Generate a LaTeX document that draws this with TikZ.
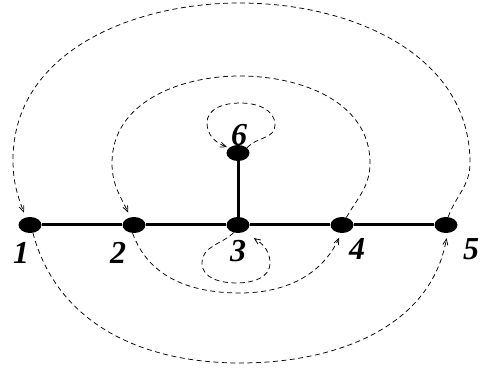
\documentclass[tikz,border=0pt]{standalone}
\usepackage{fontspec}
\setmainfont{Liberation Serif}
\usetikzlibrary{shapes.geometric,arrows.meta}
\begin{document}
\begin{tikzpicture}[x=1pt,y=1pt,
  vtx/.style={ellipse,fill=black,minimum width=23pt,minimum height=16pt,inner sep=0pt},
  edge/.style={line width=3pt},
  lbl/.style={font=\fontsize{32}{32}\selectfont\bfseries\itshape,inner sep=0pt},
  jump/.style={line width=0.75pt,dash pattern=on 5pt off 3.5pt,-{Straight Barb[length=6pt,width=5pt]}}]
\useasboundingbox (0,0) rectangle (480,372);
\node[vtx] (n1) at (30,147) {};
\node[vtx] (n2) at (134,147) {};
\node[vtx] (n3) at (238,147) {};
\node[vtx] (n4) at (342,147) {};
\node[vtx] (n5) at (446,147) {};
\node[vtx] (n6) at (238,219) {};
\node[lbl] (l1) at (21,119) {1};
\node[lbl] (l2) at (118,119) {2};
\node[lbl] (l3) at (238,121) {3};
\node[lbl] (l4) at (357,123) {4};
\node[lbl] (l5) at (471,123) {5};
\node[lbl] (l6) at (239,237) {6};
\draw[edge] (n1) -- (n2) -- (n3) -- (n4) -- (n5);
\draw[edge] (n3) -- (n6);
% outer loops
\draw[jump,shorten >=5pt] (n5.75) to[out=70,in=-90] (470,209) to[out=90,in=0] (240,369)
  to[out=180,in=90] (13,212) to[out=-90,in=110] (n1.120);
\draw[jump,shorten >=5pt] (n1.-70) to[out=-75,in=180] (240,9) to[out=0,in=-100] (n5.-80);
% inner loops
\draw[jump,shorten >=5pt] (n4.60) to[out=60,in=-90] (370,209) to[out=90,in=0] (240,296)
  to[out=180,in=90] (112,209) to[out=-90,in=115] (n2.115);
\draw[jump,shorten >=5pt] (n2.-100) to[out=-70,in=180] (240,79) to[out=0,in=-115] (n4.-95);
% self loops
\draw[jump,shorten >=2pt] (n6.30) to[out=50,in=-90] (275,247) to[out=90,in=0] (240,269)
  to[out=180,in=90] (207,249) to[out=-90,in=160] (n6.150);
\draw[jump,shorten >=11pt] (n3.-120) to[out=-135,in=90] (202,109) to[out=-90,in=180] (237,89)
  to[out=0,in=-90] (270,109) to[out=90,in=-35] (n3.-45);
\end{tikzpicture}
\end{document}
